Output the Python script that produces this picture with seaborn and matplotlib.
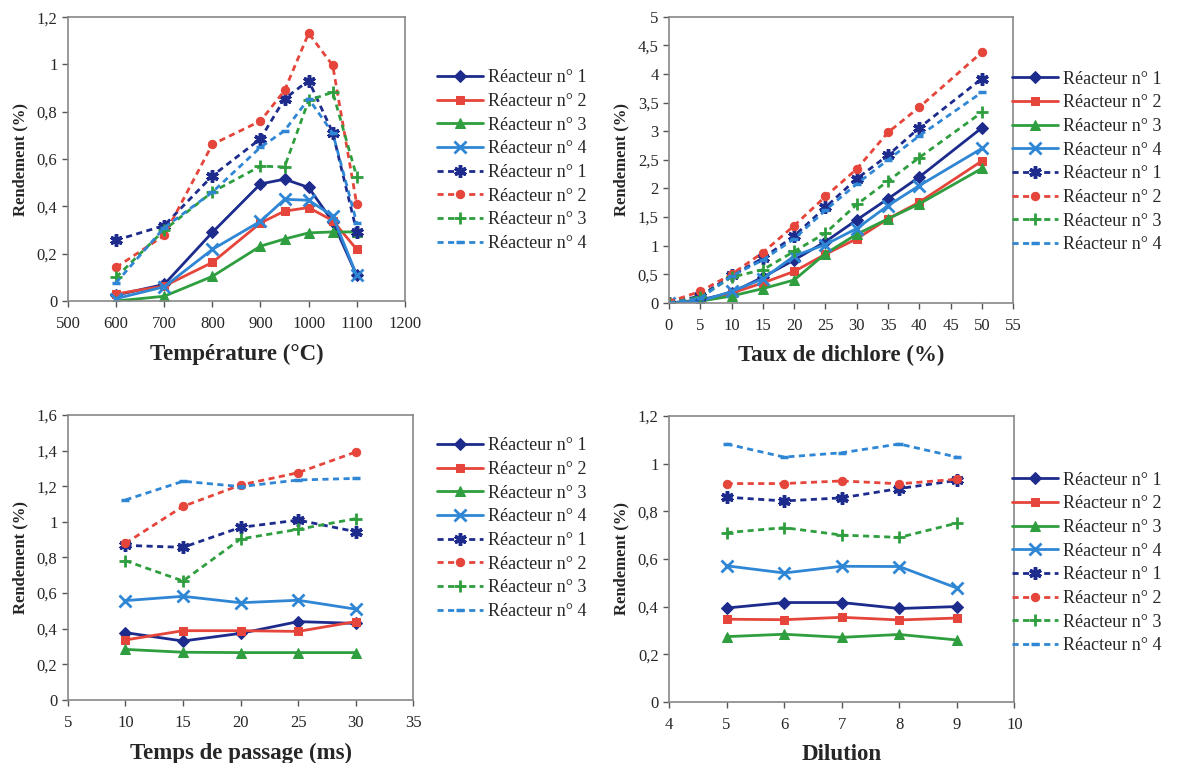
import matplotlib
matplotlib.use('Agg')
from matplotlib import pyplot as plt
from matplotlib.ticker import FuncFormatter, MultipleLocator
import seaborn as sns

# panel 1 : temperature
temp = [600, 700, 800, 900, 950, 1000, 1050, 1100]
temp_r1 = [0.025, 0.07, 0.29, 0.495, 0.515, 0.48, 0.335, 0.108]
temp_r2 = [0.03, 0.063, 0.163, 0.33, 0.38, 0.395, 0.34, 0.218]
temp_r3 = [0.0, 0.02, 0.104, 0.232, 0.262, 0.288, 0.292, 0.292]
temp_r4 = [0.01, 0.06, 0.218, 0.337, 0.43, 0.426, 0.36, 0.108]
temp_r1b = [0.257, 0.319, 0.529, 0.686, 0.855, 0.932, 0.712, 0.293]
temp_r2b = [0.142, 0.277, 0.662, 0.761, 0.89, 1.132, 0.996, 0.408]
temp_r3b = [0.1, 0.3, 0.461, 0.57, 0.567, 0.848, 0.883, 0.525]
temp_r4b = [0.077, 0.31, 0.46, 0.65, 0.72, 0.855, 0.71, 0.33]

# panel 2 : taux de dichlore
dichl = [0, 5, 10, 15, 20, 25, 30, 35, 40, 50]
dichl_r1 = [0, 0.05, 0.18, 0.45, 0.75, 1.07, 1.45, 1.82, 2.2, 3.06]
dichl_r2 = [0, 0.03, 0.17, 0.35, 0.55, 0.85, 1.12, 1.47, 1.76, 2.48]
dichl_r3 = [0, 0.03, 0.12, 0.25, 0.4, 0.86, 1.2, 1.47, 1.73, 2.35]
dichl_r4 = [0, 0.03, 0.2, 0.42, 0.82, 1.02, 1.3, 1.7, 2.05, 2.7]
dichl_r1b = [0, 0.12, 0.48, 0.78, 1.17, 1.67, 2.17, 2.58, 3.06, 3.92]
dichl_r2b = [0.02, 0.2, 0.5, 0.88, 1.35, 1.86, 2.34, 2.98, 3.42, 4.38]
dichl_r3b = [0, 0.1, 0.45, 0.58, 0.9, 1.22, 1.72, 2.13, 2.54, 3.33]
dichl_r4b = [0, 0.08, 0.47, 0.75, 1.12, 1.62, 2.08, 2.5, 2.92, 3.68]

# panel 3 : temps de passage
tps = [10, 15, 20, 25, 30]
tps_r1 = [0.378, 0.331, 0.374, 0.44, 0.43]
tps_r2 = [0.337, 0.389, 0.389, 0.385, 0.44]
tps_r3 = [0.284, 0.268, 0.266, 0.266, 0.266]
tps_r4 = [0.558, 0.582, 0.546, 0.56, 0.51]
tps_r1b = [0.868, 0.857, 0.969, 1.01, 0.945]
tps_r2b = [0.88, 1.087, 1.207, 1.276, 1.392]
tps_r3b = [0.782, 0.668, 0.904, 0.958, 1.018]
tps_r4b = [1.123, 1.228, 1.198, 1.235, 1.244]

# panel 4 : dilution
dil = [5, 6, 7, 8, 9]
dil_r1 = [0.394, 0.417, 0.417, 0.392, 0.4]
dil_r2 = [0.347, 0.345, 0.355, 0.344, 0.352]
dil_r3 = [0.274, 0.284, 0.271, 0.283, 0.26]
dil_r4 = [0.571, 0.541, 0.569, 0.568, 0.478]
dil_r1b = [0.859, 0.843, 0.856, 0.895, 0.929]
dil_r2b = [0.916, 0.916, 0.927, 0.915, 0.934]
dil_r3b = [0.71, 0.731, 0.70, 0.69, 0.75]
dil_r4b = [1.082, 1.027, 1.045, 1.082, 1.027]

labels = ['Réacteur n° 1', 'Réacteur n° 2', 'Réacteur n° 3', 'Réacteur n° 4']

sns.set_style('white')
plt.rcParams['font.family'] = ['Liberation Serif', 'DejaVu Serif']

navy = '#1d2b8c'
red = '#e5453a'
green = '#2e9e3e'
lblue = '#2f86d4'
colors = [navy, red, green, lblue]
solid_markers = [dict(marker='D', ms=6), dict(marker='s', ms=6),
                 dict(marker='^', ms=7), dict(marker='x', ms=8, mew=2)]
dash_markers = [dict(marker=(6, 2, 0), ms=9, mew=2.5), dict(marker='o', ms=6),
                dict(marker='+', ms=9, mew=2), dict(marker='_', ms=6, mew=2.5)]

comma = FuncFormatter(lambda v, p: ('%g' % round(v, 3)).replace('.', ','))

fig = plt.figure(figsize=(11.91, 7.63), dpi=100)
axes_pos = [[0.057, 0.6055, 0.283, 0.372],
            [0.5617, 0.603, 0.289, 0.375],
            [0.057, 0.0826, 0.29, 0.3735],
            [0.5617, 0.080, 0.29, 0.375]]

panels = [
    (temp, [temp_r1, temp_r2, temp_r3, temp_r4], [temp_r1b, temp_r2b, temp_r3b, temp_r4b],
     'Température (°C)', (500, 1200), 100, (0, 1.2), 0.2),
    (dichl, [dichl_r1, dichl_r2, dichl_r3, dichl_r4], [dichl_r1b, dichl_r2b, dichl_r3b, dichl_r4b],
     'Taux de dichlore (%)', (0, 55), 5, (0, 5), 0.5),
    (tps, [tps_r1, tps_r2, tps_r3, tps_r4], [tps_r1b, tps_r2b, tps_r3b, tps_r4b],
     'Temps de passage (ms)', (5, 35), 5, (0, 1.6), 0.2),
    (dil, [dil_r1, dil_r2, dil_r3, dil_r4], [dil_r1b, dil_r2b, dil_r3b, dil_r4b],
     'Dilution', (4, 10), 1, (0, 1.2), 0.2),
]

legend_anchor = [(0.367, 0.7896), (0.8497, 0.7877), (0.367, 0.3073), (0.8497, 0.2621)]

for i, (xs, solids, dashes, xlabel, xlim, xstep, ylim, ystep) in enumerate(panels):
    ax = fig.add_axes(axes_pos[i])
    for j in range(4):
        sns.lineplot(x=xs, y=solids[j], ax=ax, color=colors[j], lw=2,
                     label=labels[j], sort=False, errorbar=None,
                     mec=colors[j], mfc=colors[j], **solid_markers[j])
    for j in range(4):
        sns.lineplot(x=xs, y=dashes[j], ax=ax, color=colors[j], lw=2,
                     linestyle=(0, (2.2, 1.6)), label=labels[j], sort=False,
                     errorbar=None, mec=colors[j], mfc=colors[j], **dash_markers[j])
    ax.set_xlim(*xlim)
    ax.set_ylim(*ylim)
    ax.xaxis.set_major_locator(MultipleLocator(xstep))
    ax.yaxis.set_major_locator(MultipleLocator(ystep))
    ax.yaxis.set_major_formatter(comma)
    ax.set_xlabel(xlabel, fontsize=16.5, fontweight='bold', labelpad=8)
    ax.set_ylabel('Rendement (%)', fontsize=12, fontweight='bold', labelpad=6)
    ax.tick_params(labelsize=12, direction='out', length=4, width=1,
                   left=True, bottom=True, color='#555555')
    ax.tick_params(axis='x', pad=7)
    for s in ax.spines.values():
        s.set_color('#888888')
        s.set_linewidth(1.2)
    handles, labs = ax.get_legend_handles_labels()
    ax.get_legend().remove()
    fig.legend(handles, labs, loc='center left', bbox_to_anchor=legend_anchor[i],
               frameon=False, fontsize=13, handlelength=2.55, labelspacing=0.37,
               handletextpad=0.28, borderaxespad=0, borderpad=0)

fig.savefig('out.png', dpi=100, facecolor='white')
